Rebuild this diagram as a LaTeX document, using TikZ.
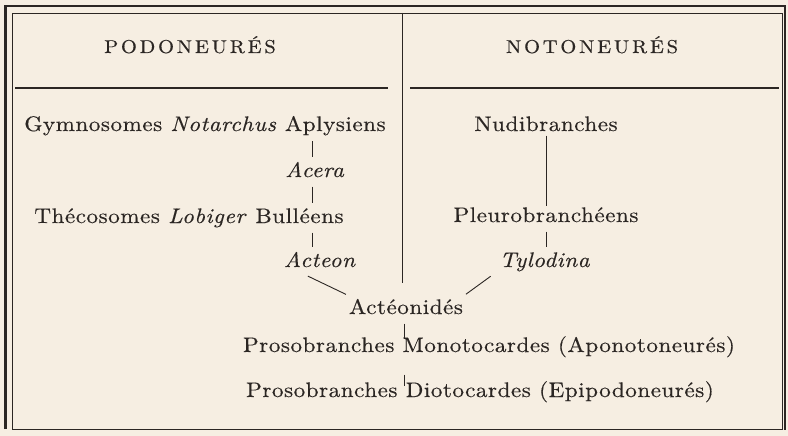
\documentclass[tikz,border=0pt]{standalone}
\usepackage{fontspec}
\setmainfont{lmroman10}[Extension=.otf, UprightFont=*-regular, ItalicFont=*-italic,
  FakeStretch=1.1, LetterSpace=2.5, FakeBold=0.4]
\definecolor{encre}{HTML}{2B2623}
\definecolor{papier}{HTML}{F6EEE2}
\tikzset{
  taxon/.style={text=encre, anchor=base, inner xsep=2pt, inner ysep=4pt,
    text height=15pt, text depth=4.5pt},
  titre/.style={taxon, font=\fontsize{18.6}{21}\selectfont\addfontfeature{LetterSpace=15}},
  trait/.style={draw=encre, line width=.9pt, shorten <=1pt, shorten >=1pt},
  filet/.style={draw=encre, line width=.9pt},
  regle/.style={draw=encre, line width=2.6pt},
}

\begin{document}
\begin{tikzpicture}[x=1pt,y=-1pt, font=\fontsize{21}{24}\selectfont]
  \useasboundingbox (0,0) rectangle (788,436);
  \fill[papier] (0,0) rectangle (788,436);

  % Cadre : double trait, épais dehors, fin dedans.
  \draw[encre, line width=2.8pt] (5.5,429) -- (5.5,6) -- (785,6) -- (785,430);
  \draw[filet] (12,13) rectangle (782,429);

  % Colonnes et filets sous les titres.
  \draw[filet] (402,13) -- (402,283);
  \draw[regle] (15,88) -- (388,88);
  \draw[regle] (410,88) -- (779,88);

  \node[titre] (podo) at (190,53) {PODONEURÉS};
  \node[titre] (noto) at (592,53) {NOTONEURÉS};

  % Branche des podoneurés.
  \node[taxon] (gymno) at (205,131) {Gymnosomes \textit{Notarchus} Aplysiens};
  \node[taxon] (acera) at (315,177) {\textit{Acera}};
  \node[taxon] (theco) at (189,223) {Thécosomes \textit{Lobiger} Bulléens};
  \node[taxon] (acteon) at (320,267) {\textit{Acteon}};

  % Branche des notoneurés.
  \node[taxon] (nudi) at (546,131) {Nudibranches};
  \node[taxon] (pleuro) at (546,222) {Pleurobranchéens};
  \node[taxon] (tylo) at (545,267) {\textit{Tylodina}};

  % Tronc commun.
  \node[taxon] (acteo) at (406,314) {Actéonidés};
  \node[taxon] (mono) at (489,352) {Prosobranches Monotocardes (Aponotoneurés)};
  \node[taxon] (dioto) at (480,397) {Prosobranches Diotocardes (Epipodoneurés)};

  \draw[trait] ([xshift=-3pt]acera.north) -- ([xshift=-3pt]acera.north |- gymno.south);
  \draw[trait] ([xshift=-3pt]acera.south) -- ([xshift=-3pt]acera.south |- theco.north);
  \draw[trait] ([xshift=-3pt]acera.south |- theco.south) -- ([xshift=-3pt]acera.south |- acteon.north);
  \draw[trait, shorten <=-4pt, shorten >=-3pt] (nudi.south) -- (nudi.south |- pleuro.north);
  \draw[trait] (pleuro.south) -- (pleuro.south |- tylo.north);
  \draw[trait] ([xshift=-13pt]acteon.south) -- (acteo.north west);
  \draw[trait] ([xshift=-6pt]tylo.south west) -- (acteo.north east);
  \draw[trait, shorten >=-6pt] ([xshift=-2pt]acteo.south) -- ([xshift=-2pt]acteo.south |- mono.north);
  \draw[trait, shorten <=14pt, shorten >=-8pt] ([xshift=-2pt]acteo.south |- mono.south) -- ([xshift=-2pt]acteo.south |- dioto.north);
\end{tikzpicture}
\end{document}
